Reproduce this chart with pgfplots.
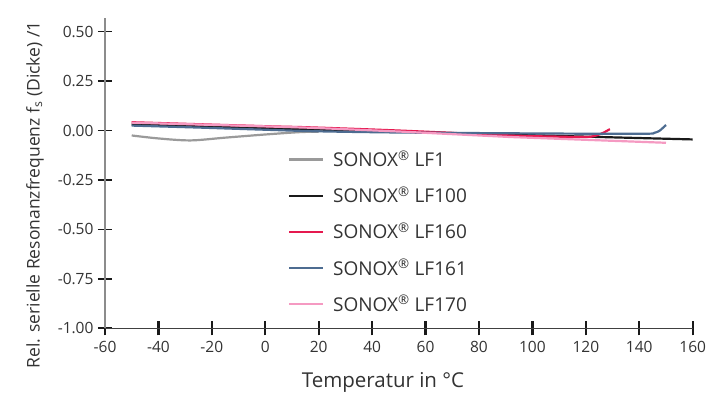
\documentclass[border=0pt]{standalone}
\usepackage{fontspec}
\setmainfont{Open Sans}
\usepackage{pgfplots}
\pgfplotsset{compat=1.18}
\definecolor{cLFone}{HTML}{9A9A9A}
\definecolor{cLFhundred}{HTML}{1A1A1A}
\definecolor{cLFsixty}{HTML}{E5194F}
\definecolor{cLFsixtyone}{HTML}{4D6C91}
\definecolor{cLFseventy}{HTML}{F59AC2}
\definecolor{txt}{HTML}{333333}
\begin{document}
\begin{tikzpicture}
\begin{axis}[
  scale only axis, width=587.7pt, height=310.3pt,
  xmin=-60, xmax=160, ymin=-1, ymax=0.569,
  axis lines=left,
  axis line style={-, line width=1.2pt},
  every outer x axis line/.append style={draw=black!75},
  every outer y axis line/.append style={draw=black!45},
  xtick={-60,-40,-20,0,20,40,60,80,100,120,140,160},
  ytick={-1,-0.75,-0.5,-0.25,0,0.25,0.5},
  tick align=center,
  major tick length=14pt,
  xtick style={draw=black!90, line width=2.2pt, solid},
  ytick style={draw=black!90, line width=1.7pt, solid},
  /pgf/number format/assume math mode=true,
  ticklabel style={font=\fontsize{15.5}{15.5}\selectfont, text=txt},
  xticklabel style={yshift=-2pt},
  yticklabel style={xshift=-1pt, /pgf/number format/.cd, fixed, fixed zerofill, precision=2},
  xlabel={Temperatur in °C},
  ylabel={Rel. serielle Resonanzfrequenz f\textsubscript{s} (Dicke) /1},
  every axis x label/.style={at={(axis description cs:0.473,-0.173)}, anchor=center, font=\fontsize{20.5}{20.5}\selectfont, text=txt},
  every axis y label/.style={at={(axis description cs:-0.119,0.43)}, rotate=90, anchor=center, font=\fontsize{17.5}{17.5}\selectfont, text=txt},
  legend style={at={(axis description cs:0.311,0.579)}, anchor=north west, draw=none, fill=none, inner sep=0pt, row sep=14.7pt, font=\fontsize{19}{22}\selectfont, text=txt, /tikz/every odd column/.append style={column sep=7pt}},
  legend image code/.code={\draw[#1, line width=2.2pt] (0pt,0pt) -- (34pt,0pt);},
  legend cell align=left,
]
\addplot[cLFone, line width=2.2pt, smooth] coordinates {(-50,-0.025) (-40,-0.040) (-28,-0.050) (-15,-0.036) (0,-0.020) (13,-0.008) (20,-0.006)};
\addlegendentry{SONOX\textsuperscript{®} LF1}
\addplot[cLFhundred, line width=2.2pt] coordinates {(-50,0.030) (0,0.012) (60,-0.009) (100,-0.024) (140,-0.038) (160,-0.045)};
\addlegendentry{SONOX\textsuperscript{®} LF100}
\addplot[cLFsixty, line width=2.2pt, smooth] coordinates {(-50,0.042) (0,0.022) (17,0.016) (50,0.000) (92,-0.025) (110,-0.031) (118,-0.033) (122,-0.031) (125,-0.020) (127,-0.008) (129,0.007)};
\addlegendentry{SONOX\textsuperscript{®} LF160}
\addplot[cLFsixtyone, line width=2.2pt, smooth] coordinates {(-50,0.025) (-25,0.015) (0,0.004) (20,-0.004) (50,-0.010) (92,-0.014) (120,-0.016) (143,-0.016) (145.5,-0.012) (147.5,-0.002) (150,0.028)};
\addlegendentry{SONOX\textsuperscript{®} LF161}
\addplot[cLFseventy, line width=2.2pt] coordinates {(-50,0.040) (0,0.021) (17,0.014) (50,-0.005) (92,-0.033) (120,-0.047) (150,-0.062)};
\addlegendentry{SONOX\textsuperscript{®} LF170}
\end{axis}
\pgfresetboundingbox
\path[use as bounding box] (-105pt,-64.7pt) rectangle (601pt,328.3pt);
\end{tikzpicture}
\end{document}
